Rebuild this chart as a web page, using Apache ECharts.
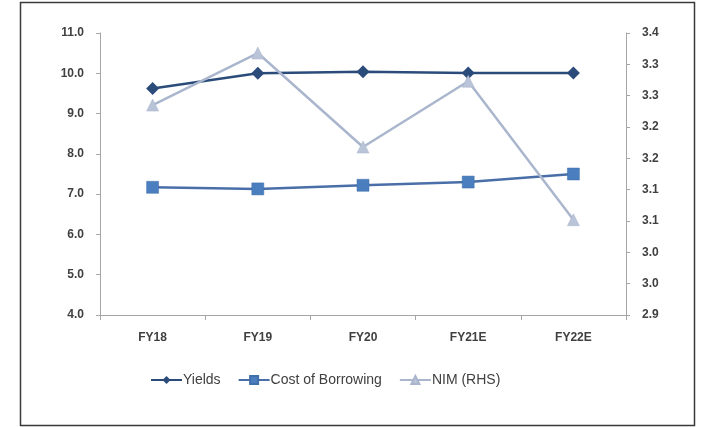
<!DOCTYPE html>
<html>
<head>
<meta charset="utf-8">
<script src="https://cdn.jsdelivr.net/npm/echarts@6/dist/echarts.min.js"></script>
<style>
  html, body { margin: 0; padding: 0; background: #fff; }
  #chart { width: 701px; height: 427px; }
</style>
</head>
<body>
<div id="chart"></div>
<script>
// Fiscal years on the category axis
const categories = ['FY18', 'FY19', 'FY20', 'FY21E', 'FY22E'];
// Left axis series (%)
const yields = [9.62, 10.0, 10.04, 10.01, 10.01];
const costOfBorrowing = [7.17, 7.13, 7.22, 7.30, 7.50];
// Right axis series (%)
const nim = [3.235, 3.318, 3.168, 3.273, 3.052];

const labelFont = { color: '#404040', fontWeight: 'bold', fontSize: 12, fontFamily: 'Liberation Sans, Arial, sans-serif' };
const axisGrey = '#a6a6a6';

const chart = echarts.init(document.getElementById('chart'), null, { renderer: 'canvas' });
chart.setOption({
  animation: false,
  backgroundColor: '#fff',
  graphic: [{
    type: 'rect',
    shape: { x: 20.5, y: 2.5, width: 674, height: 423 },
    style: { fill: 'none', stroke: '#3a3a3a', lineWidth: 1.5 },
    silent: true
  }],
  grid: { left: 100, right: 75, top: 33, bottom: 112 },
  legend: {
    left: 145,
    top: 368,
    itemWidth: 31,
    itemHeight: 10,
    itemGap: 17,
    textStyle: { color: '#404040', fontSize: 14, fontFamily: 'Liberation Sans, Arial, sans-serif', padding: [0, 0, 0, -4] },
    data: ['Yields', 'Cost of Borrowing', 'NIM (RHS)']
  },
  xAxis: {
    type: 'category',
    data: categories,
    boundaryGap: true,
    axisLine: { lineStyle: { color: axisGrey, width: 1 } },
    axisTick: { show: true, length: 5, inside: false, alignWithLabel: false, lineStyle: { color: axisGrey } },
    axisLabel: Object.assign({ margin: 17 }, labelFont),
    splitLine: { show: false }
  },
  yAxis: [{
    type: 'value',
    min: 4, max: 11, interval: 1,
    position: 'left',
    axisLine: { show: true, lineStyle: { color: axisGrey } },
    axisTick: { show: true, length: 4, lineStyle: { color: axisGrey } },
    axisLabel: Object.assign({ margin: 16, formatter: v => v.toFixed(1) }, labelFont),
    splitLine: { show: false }
  }, {
    type: 'value',
    min: 2.9, max: 3.35, interval: 0.05,
    position: 'right',
    axisLine: { show: true, lineStyle: { color: axisGrey } },
    axisTick: { show: true, length: 4, lineStyle: { color: axisGrey } },
    axisLabel: Object.assign({
      margin: 16,
      formatter: v => (Math.round(v * 10 + 1e-6) / 10).toFixed(1)
    }, labelFont),
    splitLine: { show: false }
  }],
  series: [{
    name: 'Yields',
    type: 'line',
    yAxisIndex: 0,
    data: yields,
    symbol: 'diamond',
    symbolSize: 13,
    lineStyle: { color: '#2b4c7a', width: 2.5 },
    itemStyle: { color: '#2b4c7a' },
    z: 3
  }, {
    name: 'Cost of Borrowing',
    type: 'line',
    yAxisIndex: 0,
    data: costOfBorrowing,
    symbol: 'rect',
    symbolSize: 12,
    lineStyle: { color: '#4a6fa8', width: 2.5 },
    itemStyle: { color: '#4a7ebe', borderColor: '#3f6ea8', borderWidth: 0.5 },
    z: 3
  }, {
    name: 'NIM (RHS)',
    type: 'line',
    yAxisIndex: 1,
    data: nim,
    symbol: 'triangle',
    symbolSize: 12,
    lineStyle: { color: '#aab6cd', width: 2.5 },
    itemStyle: { color: '#b9c4d9', borderColor: '#a9b5cc', borderWidth: 0.5 },
    z: 4
  }]
});
</script>
</body>
</html>
